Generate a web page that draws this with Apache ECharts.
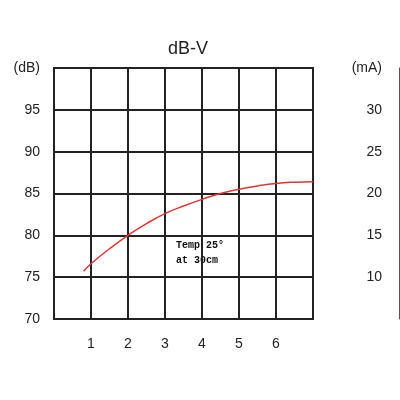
<!DOCTYPE html>
<html>
<head>
<meta charset="utf-8">
<script src="https://cdn.jsdelivr.net/npm/echarts@6/dist/echarts.min.js"></script>
<style>html,body{margin:0;padding:0;background:#fff}#c{width:400px;height:400px}</style>
</head>
<body>
<div id="c"></div>
<script>
// Data
var xTickLabels = ['1', '2', '3', '4', '5', '6'];
var curveX = [0.8, 1, 1.5, 2, 2.5, 3, 3.5, 4, 4.5, 5, 5.5, 6, 6.5, 7];
var curveDb = [75.7, 76.6, 78.4, 80, 81.4, 82.6, 83.5, 84.3, 85, 85.5, 85.9, 86.2, 86.35, 86.4];
var leftUnit = '(dB)';
var rightUnit = '(mA)';
var noteLines = ['Temp 25\u00b0', 'at 30cm'];

var chart = echarts.init(document.getElementById('c'));
var txt = '#222';
var font = 'Liberation Sans';
chart.setOption({
  animation: false,
  title: {
    text: 'dB-V', left: 183, top: 35, textAlign: 'center',
    textStyle: { fontSize: 18, fontWeight: 'normal', color: txt, fontFamily: font }
  },
  grid: { left: 54, right: 87, top: 68, bottom: 81, show: true, borderColor: '#222', borderWidth: 2, backgroundColor: 'transparent' },
  xAxis: {
    type: 'value', min: 0, max: 7, interval: 1,
    axisLine: { show: true, lineStyle: { color: '#222', width: 2 } },
    axisTick: { show: false },
    splitLine: { show: true, lineStyle: { color: '#222', width: 2 } },
    axisLabel: {
      margin: 18, fontSize: 14, color: txt, fontFamily: font,
      formatter: function (v) { var i = xTickLabels.indexOf(String(v)); return i >= 0 ? xTickLabels[i] : ''; }
    }
  },
  yAxis: [{
    type: 'value', min: 70, max: 100, interval: 5, position: 'left',
    axisLine: { show: true, lineStyle: { color: '#222', width: 2 } },
    axisTick: { show: false },
    splitLine: { show: true, lineStyle: { color: '#222', width: 2 } },
    axisLabel: {
      margin: 14, fontSize: 14, color: txt, fontFamily: font,
      formatter: function (v) { return v === 100 ? leftUnit : String(v); }
    }
  }, {
    type: 'value', min: 5, max: 35, interval: 5, position: 'right', offset: 86,
    axisLine: { show: true, lineStyle: { color: '#555', width: 1 } },
    axisTick: { show: false },
    splitLine: { show: false },
    axisLabel: {
      inside: true, margin: 17, fontSize: 14, color: txt, fontFamily: font,
      formatter: function (v) { return v === 35 ? rightUnit : (v === 5 ? '' : String(v)); }
    }
  }],
  series: [{
    type: 'line', yAxisIndex: 0, smooth: true, symbol: 'none',
    lineStyle: { color: '#e03535', width: 1.5 },
    data: curveX.map(function (x, i) { return [x, curveDb[i]]; })
  }],
  graphic: [{
    type: 'text', left: 176, top: 238,
    style: { text: noteLines.join('\n'), font: 'bold 10px "Liberation Mono"', fill: '#111', lineHeight: 15, align: 'left' }
  }]
});
</script>
</body>
</html>
